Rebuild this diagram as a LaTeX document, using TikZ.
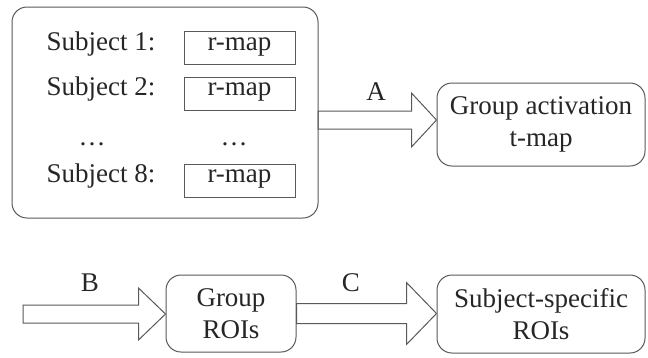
\documentclass[tikz,border=0pt]{standalone}
\usepackage{fontspec}
\setmainfont{Liberation Serif}
\usetikzlibrary{calc}
\tikzset{
        every node/.style={font=\fontsize{27}{32}\selectfont, text=black!85},
        outer/.style={draw=black!65, line width=1pt, rounded corners=15pt, minimum width=306pt, minimum height=211pt},
        stage/.style={draw=black!65, line width=1pt, rounded corners=15pt, align=center, inner sep=0pt},
        mapbox/.style={draw=black!65, line width=1pt, minimum width=111pt, minimum height=33pt, inner sep=0pt, text height=0.68em, text depth=0.22em},
        subj/.style={inner sep=0pt, text height=0.68em, text depth=0.22em},
        arrowline/.style={draw=black!65, line width=1pt, line join=miter}
          }
% hollow block arrow: from, to, shaft half width, head half width, head length
\newcommand{\blockarrow}[5]{%
  \draw[arrowline] let \p1=(#1), \p2=(#2) in
    (\x1,\y1+#3) -- (\x2-#5,\y1+#3) -- (\x2-#5,\y1+#4) -- (\x2,\y1)
    -- (\x2-#5,\y1-#4) -- (\x2-#5,\y1-#3) -- (\x1,\y1-#3) -- cycle;}

\begin{document}
\begin{tikzpicture}[x=1pt, y=-1pt]
            \useasboundingbox (0,0) rectangle (648,357);
            \node[outer] (group) at (165,112.5) {};
            \node[subj] (s1) at (101,48) {Subject 1:};
            \node[mapbox] (m1) at (239.5,48) {r-map};
            \node[subj] (s2) at (101,93.5) {Subject 2:};
            \node[mapbox] (m2) at (239.5,93.5) {r-map};
            \node[subj] (sdots) at (92,143) {…};
            \node[subj] (mdots) at (234,143) {…};
            \node[subj] (s8) at (101,180.5) {Subject 8:};
            \node[mapbox] (m8) at (239.5,180.5) {r-map};

            \node[stage, minimum width=208pt, minimum height=83pt] (tmap) at (541,124.5) {Group activation\\t-map};
            \node[stage, minimum width=130pt, minimum height=77pt] (groi) at (231,313.5) {Group\\ROIs};
            \node[stage, minimum width=208pt, minimum height=78pt] (sroi) at (541,314) {Subject-specific\\ROIs};

            \coordinate (a0) at (318,120);
            \coordinate (a1) at (tmap.west |- a0);
            \coordinate (b0) at (23,314);

            % A, B, C
            \blockarrow{a0}{a1}{9pt}{27pt}{25pt}
            \blockarrow{b0}{groi.west}{9pt}{26pt}{27pt}
            \blockarrow{groi.east}{sroi.west}{10pt}{31pt}{30pt}
            \node (la) at (376,92) {A};
            \node (lb) at (90,283) {B};
            \node (lc) at (351,283) {C};
          \end{tikzpicture}
\end{document}
